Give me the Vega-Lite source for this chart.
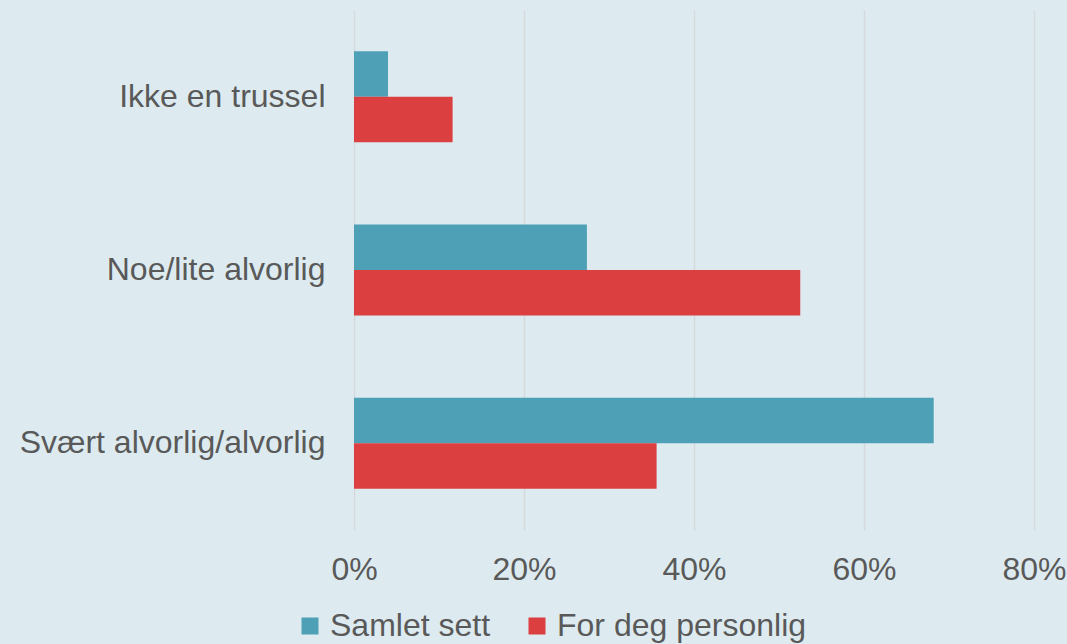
{
  "$schema": "https://vega.github.io/schema/vega-lite/v6.json",
  "autosize": "none",
  "width": 680,
  "height": 520,
  "padding": {"left": 354, "top": 10, "right": 33, "bottom": 114},
  "background": "#DDEBF0",
  "config": {
    "view": {"stroke": null},
    "font": "Liberation Sans"
  },
  "data": {
    "values": [
      {"kategori": "Ikke en trussel", "serie": "Samlet sett", "andel": 0.04},
      {"kategori": "Ikke en trussel", "serie": "For deg personlig", "andel": 0.116},
      {"kategori": "Noe/lite alvorlig", "serie": "Samlet sett", "andel": 0.274},
      {"kategori": "Noe/lite alvorlig", "serie": "For deg personlig", "andel": 0.525},
      {"kategori": "Svært alvorlig/alvorlig", "serie": "Samlet sett", "andel": 0.682},
      {"kategori": "Svært alvorlig/alvorlig", "serie": "For deg personlig", "andel": 0.356}
    ]
  },
  "mark": {"type": "bar"},
  "encoding": {
    "y": {
      "field": "kategori",
      "type": "nominal",
      "sort": ["Ikke en trussel", "Noe/lite alvorlig", "Svært alvorlig/alvorlig"],
      "scale": {"paddingInner": 0.475, "paddingOuter": 0.2375},
      "axis": {
        "title": null,
        "domain": false,
        "ticks": false,
        "labelFontSize": 32,
        "labelColor": "#595959",
        "labelPadding": 29,
        "labelLimit": 400
      }
    },
    "yOffset": {
      "field": "serie",
      "type": "nominal",
      "sort": ["Samlet sett", "For deg personlig"]
    },
    "x": {
      "field": "andel",
      "type": "quantitative",
      "scale": {"domain": [0, 0.8], "nice": false},
      "axis": {
        "title": null,
        "format": ".0%",
        "values": [0, 0.2, 0.4, 0.6, 0.8],
        "domain": false,
        "ticks": false,
        "grid": true,
        "gridColor": "#D6D9DB",
        "gridWidth": 1.5,
        "labelFlush": false,
        "labelFontSize": 32,
        "labelColor": "#595959",
        "labelPadding": 24
      }
    },
    "color": {
      "field": "serie",
      "type": "nominal",
      "sort": ["Samlet sett", "For deg personlig"],
      "scale": {"domain": ["Samlet sett", "For deg personlig"], "range": ["#4EA0B7", "#DB3F3F"]},
      "legend": {
        "title": null,
        "orient": "none",
        "direction": "horizontal",
        "legendX": -60,
        "legendY": 600,
        "symbolType": "square",
        "symbolSize": 289,
        "symbolStrokeWidth": 0,
        "labelFontSize": 32,
        "labelColor": "#595959",
        "labelOffset": 4,
        "labelLimit": 400,
        "columnPadding": 30
      }
    }
  }
}
